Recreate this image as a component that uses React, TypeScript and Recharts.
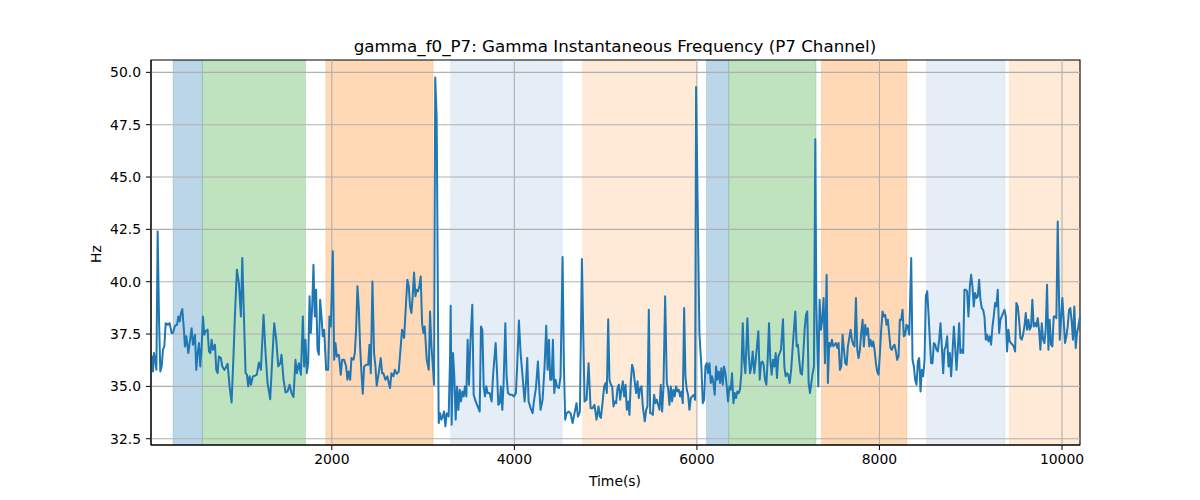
import {
  LineChart,
  Line,
  XAxis,
  YAxis,
  ReferenceArea,
  ReferenceLine,
} from 'recharts'

// time axis (seconds) and instantaneous gamma frequency of the P7 channel (Hz)
const timeS = [
  19, 34, 41, 52, 70, 78, 92, 107, 121, 136, 150, 165, 180, 202, 223, 245, 260, 282, 304, 318,
  333, 347, 362, 377, 391, 406, 428, 450, 464, 479, 501, 515, 530, 545, 559, 574, 588, 603, 617, 639,
  654, 669, 683, 698, 720, 734, 749, 763, 785, 800, 822, 836, 858, 880, 902, 924, 938, 960, 982, 1004,
  1019, 1033, 1055, 1070, 1084, 1099, 1114, 1135, 1157, 1179, 1201, 1223, 1252, 1274, 1296, 1325, 1347, 1369, 1391, 1413,
  1435, 1449, 1471, 1493, 1515, 1537, 1559, 1580, 1602, 1617, 1639, 1661, 1683, 1697, 1712, 1726, 1741, 1756, 1770, 1785,
  1799, 1814, 1828, 1843, 1858, 1872, 1887, 1901, 1916, 1938, 1960, 1974, 1989, 2011, 2026, 2040, 2055, 2077, 2098, 2113,
  2135, 2157, 2171, 2186, 2201, 2215, 2237, 2252, 2266, 2281, 2295, 2310, 2325, 2339, 2354, 2376, 2398, 2412, 2427, 2445,
  2463, 2478, 2492, 2514, 2536, 2551, 2565, 2587, 2609, 2624, 2638, 2653, 2675, 2690, 2711, 2733, 2755, 2770, 2792, 2813,
  2828, 2843, 2857, 2872, 2886, 2901, 2916, 2930, 2945, 2959, 2974, 2989, 3003, 3018, 3040, 3062, 3076, 3091, 3105, 3120,
  3133, 3149, 3171, 3186, 3200, 3215, 3229, 3244, 3259, 3280, 3295, 3302, 3313, 3328, 3342, 3357, 3372, 3386, 3401, 3415,
  3430, 3445, 3459, 3474, 3488, 3503, 3518, 3539, 3554, 3576, 3598, 3620, 3634, 3649, 3664, 3678, 3693, 3707, 3729, 3751,
  3766, 3780, 3795, 3809, 3824, 3839, 3853, 3868, 3882, 3901, 3915, 3930, 3952, 3974, 3996, 4017, 4032, 4050, 4068, 4090,
  4112, 4127, 4141, 4156, 4178, 4200, 4214, 4236, 4258, 4273, 4287, 4309, 4331, 4349, 4364, 4379, 4393, 4408, 4422, 4437,
  4451, 4466, 4488, 4506, 4528, 4543, 4557, 4572, 4594, 4616, 4638, 4659, 4681, 4696, 4718, 4740, 4754, 4769, 4791, 4813,
  4835, 4857, 4878, 4900, 4922, 4937, 4948, 4962, 4984, 4999, 5013, 5028, 5042, 5057, 5072, 5086, 5101, 5115, 5130, 5145,
  5159, 5174, 5188, 5203, 5218, 5232, 5247, 5261, 5276, 5290, 5305, 5320, 5334, 5349, 5363, 5378, 5393, 5407, 5429, 5444,
  5458, 5473, 5488, 5502, 5517, 5531, 5546, 5560, 5575, 5590, 5604, 5619, 5633, 5652, 5670, 5684, 5699, 5714, 5728, 5743,
  5757, 5772, 5787, 5801, 5816, 5830, 5845, 5860, 5874, 5889, 5903, 5918, 5933, 5947, 5969, 5980, 5991, 6027, 6049, 6064,
  6079, 6093, 6108, 6122, 6137, 6152, 6166, 6181, 6195, 6210, 6224, 6239, 6254, 6268, 6283, 6297, 6312, 6327, 6341, 6356,
  6370, 6385, 6400, 6414, 6429, 6443, 6458, 6472, 6487, 6502, 6516, 6531, 6553, 6567, 6582, 6597, 6611, 6629, 6644, 6658,
  6673, 6688, 6702, 6717, 6731, 6746, 6761, 6775, 6790, 6804, 6819, 6834, 6848, 6863, 6877, 6892, 6907, 6921, 6943, 6958,
  6972, 6987, 7001, 7016, 7031, 7045, 7060, 7078, 7093, 7107, 7122, 7136, 7151, 7166, 7180, 7195, 7209, 7224, 7239, 7253,
  7268, 7282, 7297, 7308, 7330, 7344, 7359, 7373, 7388, 7403, 7421, 7435, 7450, 7465, 7479, 7494, 7508, 7523, 7538, 7552,
  7567, 7581, 7596, 7611, 7625, 7640, 7654, 7669, 7684, 7698, 7713, 7727, 7742, 7757, 7771, 7786, 7800, 7815, 7829, 7844,
  7859, 7873, 7888, 7902, 7917, 7932, 7946, 7961, 7975, 7990, 8005, 8019, 8034, 8048, 8063, 8078, 8092, 8107, 8121, 8136,
  8150, 8165, 8180, 8194, 8209, 8223, 8238, 8253, 8267, 8282, 8296, 8311, 8326, 8348, 8362, 8377, 8391, 8406, 8421, 8435,
  8450, 8464, 8479, 8494, 8508, 8523, 8537, 8552, 8566, 8581, 8596, 8610, 8625, 8639, 8654, 8669, 8683, 8698, 8712, 8727,
  8742, 8756, 8771, 8785, 8800, 8815, 8829, 8844, 8858, 8873, 8887, 8902, 8917, 8931, 8946, 8960, 8975, 8990, 9004, 9019,
  9033, 9048, 9063, 9077, 9092, 9106, 9121, 9136, 9150, 9165, 9179, 9194, 9209, 9223, 9238, 9252, 9267, 9281, 9296, 9311,
  9325, 9340, 9354, 9369, 9384, 9398, 9413, 9427, 9442, 9457, 9471, 9486, 9500, 9515, 9530, 9544, 9559, 9573, 9588, 9603,
  9617, 9632, 9646, 9661, 9675, 9690, 9705, 9719, 9734, 9748, 9763, 9778, 9792, 9807, 9821, 9836, 9851, 9865, 9880, 9894,
  9909, 9924, 9938, 9953, 9975, 9989, 10004, 10018, 10033, 10048, 10062, 10077, 10091, 10106, 10120, 10135, 10150, 10164, 10179, 10197,
]

const hzP7 = [
  36.3, 36.43, 35.71, 36.59, 36.11, 35.79, 42.4, 38.18, 35.71, 35.95, 36.75, 36.91, 38.02, 37.94, 38.02, 37.55, 37.55, 37.9, 37.94, 38.34,
  38.1, 38.5, 38.69, 37.86, 36.91, 37.39, 36.59, 37.31, 37.78, 36.99, 37.47, 35.79, 36.59, 37.07, 35.95, 36.91, 38.34, 37.47, 37.63, 37.71,
  36.67, 36.59, 37.23, 36.75, 36.99, 35.79, 35.63, 36.43, 36.35, 35.95, 35.79, 35.87, 36.08, 35.0, 34.23, 36.59, 38.34, 40.57, 39.93, 38.34,
  41.13, 38.98, 35.63, 35.56, 35.0, 35.48, 35.08, 35.48, 35.51, 35.56, 36.14, 35.79, 38.42, 36.59, 35.16, 34.39, 36.27, 38.02, 37.23, 35.95,
  36.11, 36.51, 35.32, 34.71, 34.76, 35.08, 34.68, 34.49, 36.27, 35.63, 36.11, 35.56, 38.34, 35.95, 37.23, 35.63, 36.11, 39.3, 37.55, 38.82,
  40.81, 38.34, 39.62, 36.75, 36.51, 39.14, 38.34, 37.39, 37.71, 35.79, 35.79, 38.34, 37.86, 41.45, 36.27, 37.07, 36.43, 36.51, 35.56, 36.27,
  36.27, 35.95, 35.32, 35.71, 35.32, 36.35, 36.27, 36.59, 37.71, 39.78, 38.82, 36.91, 35.63, 34.65, 35.95, 36.03, 36.03, 36.99, 35.63, 40.01,
  36.59, 35.95, 35.03, 35.63, 36.35, 35.63, 35.63, 35.32, 35.48, 35.16, 34.92, 35.63, 35.48, 35.79, 35.6, 35.71, 36.91, 37.71, 37.31, 38.98,
  40.09, 39.78, 38.82, 38.5, 39.3, 40.44, 39.3, 39.62, 39.54, 39.78, 40.25, 38.02, 37.55, 37.86, 36.27, 35.79, 38.58, 36.91, 36.11, 35.08,
  49.75, 47.8, 33.25, 33.72, 33.41, 33.56, 33.8, 33.09, 33.72, 33.56, 36.27, 38.85, 33.17, 36.59, 35.48, 33.41, 35.0, 33.88, 34.84, 34.28,
  34.76, 34.52, 35.0, 34.52, 37.23, 35.08, 37.07, 38.9, 34.6, 34.28, 34.04, 33.8, 37.86, 37.71, 35.0, 34.52, 35.0, 34.68, 34.68, 34.28,
  35.48, 36.27, 37.07, 35.79, 34.12, 34.2, 35.0, 33.88, 35.16, 38.02, 35.48, 34.68, 34.6, 34.6, 34.52, 34.68, 36.11, 38.15, 36.59, 35.48,
  34.28, 35.16, 36.35, 34.28, 33.96, 33.72, 34.28, 34.92, 36.19, 34.92, 33.88, 34.36, 35.95, 37.9, 35.79, 37.23, 35.32, 35.32, 37.23, 34.68,
  35.32, 35.0, 34.92, 35.48, 41.18, 35.95, 33.41, 33.72, 33.8, 33.72, 33.25, 33.72, 34.2, 33.56, 33.8, 41.08, 37.71, 34.28, 34.36, 36.11,
  33.96, 33.96, 34.12, 33.41, 34.04, 33.56, 33.49, 34.04, 35.0, 35.16, 34.68, 38.21, 35.32, 35.08, 35.0, 34.04, 34.28, 34.2, 34.92, 35.08,
  34.36, 34.84, 35.24, 34.52, 35.08, 33.88, 34.28, 33.64, 35.24, 36.03, 35.79, 35.16, 34.68, 35.24, 34.44, 34.92, 35.0, 34.04, 33.33, 33.88,
  34.04, 38.66, 33.72, 33.72, 33.64, 34.6, 34.2, 34.36, 34.12, 33.88, 35.08, 33.8, 34.92, 39.3, 35.16, 34.92, 34.12, 35.0, 34.28, 34.84,
  34.52, 35.0, 34.76, 34.84, 34.52, 34.76, 34.2, 38.74, 35.48, 34.84, 34.6, 33.88, 34.44, 34.52, 34.6, 34.36, 49.3, 37.55, 35.95, 34.2,
  34.36, 35.95, 36.11, 35.63, 36.11, 35.16, 35.48, 35.16, 34.6, 35.95, 35.32, 35.71, 35.16, 35.87, 35.08, 35.95, 35.63, 35.0, 34.28, 35.0,
  34.84, 35.63, 34.2, 34.68, 34.44, 34.76, 34.68, 34.84, 35.63, 38.02, 36.27, 35.63, 38.25, 36.59, 35.63, 35.95, 36.67, 35.63, 36.27, 36.91,
  37.63, 35.32, 36.11, 36.19, 36.03, 35.32, 35.08, 36.27, 38.02, 36.27, 35.56, 36.27, 35.95, 36.59, 35.4, 36.43, 36.59, 36.75, 38.21, 35.95,
  35.48, 35.63, 35.56, 35.16, 35.71, 36.59, 37.55, 38.58, 36.91, 36.99, 36.19, 35.63, 35.56, 36.59, 37.71, 38.42, 38.58, 35.16, 34.68, 35.16,
  35.63, 35.95, 46.8, 38.98, 35.0, 39.14, 37.71, 38.18, 39.22, 36.11, 40.33, 35.16, 37.07, 36.91, 37.23, 36.91, 36.99, 37.07, 36.83, 37.07,
  35.79, 35.95, 37.47, 36.75, 36.11, 36.03, 36.91, 37.31, 37.71, 37.23, 36.99, 36.91, 39.22, 36.75, 36.35, 36.75, 37.55, 38.18, 36.91, 37.94,
  37.47, 37.78, 36.91, 37.23, 36.91, 37.15, 36.75, 36.11, 35.71, 35.56, 36.59, 37.71, 38.58, 38.34, 38.42, 37.94, 38.18, 37.47, 36.83, 36.75,
  36.91, 36.99, 36.67, 36.27, 36.43, 38.18, 38.18, 38.66, 37.39, 37.47, 37.94, 37.86, 37.47, 41.13, 36.27, 35.95, 35.32, 35.08, 36.19, 36.35,
  34.76, 35.79, 35.48, 36.27, 39.3, 39.54, 38.5, 37.23, 36.11, 36.11, 37.07, 36.99, 36.75, 36.67, 37.23, 38.02, 36.91, 35.63, 36.75, 36.91,
  37.39, 35.95, 36.59, 35.48, 36.59, 37.86, 36.91, 35.79, 36.75, 38.02, 36.59, 36.75, 36.59, 39.62, 39.62, 39.54, 38.34, 39.78, 40.33, 39.78,
  38.82, 39.46, 39.22, 39.3, 40.09, 39.14, 38.74, 38.66, 38.34, 37.23, 37.47, 37.15, 37.39, 36.99, 37.86, 38.34, 38.98, 38.82, 39.62, 37.55,
  38.18, 38.34, 38.5, 38.66, 38.34, 36.67, 37.71, 37.15, 37.07, 36.99, 36.91, 36.67, 38.98, 38.82, 38.18, 37.31, 37.23, 37.47, 37.86, 38.5,
  37.71, 38.18, 37.71, 37.86, 39.14, 37.86, 38.02, 37.86, 38.26, 37.71, 36.75, 38.02, 37.23, 37.07, 37.71, 39.86, 36.75, 38.18, 36.99, 36.91,
  38.34, 38.34, 38.26, 42.88, 37.23, 38.18, 39.22, 38.18, 37.07, 37.39, 37.86, 38.66, 38.74, 38.1, 37.23, 38.82, 36.83, 37.55, 37.86, 38.34,
]

// shaded task phases
const bandStart = [260, 582, 1934, 3302, 4747, 6104, 6348, 7363, 8515, 9423]
const bandEnd = [582, 1712, 3110, 4525, 5995, 6348, 7305, 8301, 9376, 10197]
const bandKind = ['blue', 'green', 'orange', 'paleBlue', 'paleOrange', 'blue', 'green', 'orange', 'paleBlue', 'paleOrange']

const xTicks = [2000, 4000, 6000, 8000, 10000]
const yTicks = [32.5, 35, 37.5, 40, 42.5, 45, 47.5, 50]
const xDomain: [number, number] = [19, 10197]
const yDomain: [number, number] = [32.2, 50.59]

const kindStyle: Record<string, { color: string; opacity: number }> = {
  blue: { color: '#1f77b4', opacity: 0.3 },
  green: { color: '#2ca02c', opacity: 0.3 },
  orange: { color: '#ff7f0e', opacity: 0.3 },
  paleBlue: { color: '#4a80c8', opacity: 0.14 },
  paleOrange: { color: '#ff7f0e', opacity: 0.16 },
}

const data = timeS.map((t, i) => ({ t, hz: hzP7[i] }))

const FONT = '"DejaVu Sans", sans-serif'
const tickStyle = { fill: '#000', fontSize: 13.9, fontFamily: FONT }

export default function App() {
  return (
    <div style={{ position: 'absolute', left: 0, top: 0, width: 1200, height: 500, background: '#fff' }}>
      <LineChart
        width={1200}
        height={500}
        data={data}
        margin={{ top: 60, right: 120, bottom: 25, left: 0 }}
      >
        <XAxis
          dataKey="t"
          type="number"
          domain={xDomain}
          ticks={xTicks}
          tickSize={5}
          tickMargin={4}
          tick={tickStyle}
          stroke="#000"
          tickLine={{ stroke: '#000' }}
          axisLine={{ stroke: '#000' }}
          height={30}
        />
        <YAxis
          type="number"
          domain={yDomain}
          ticks={yTicks}
          allowDataOverflow
          tickFormatter={(v: number) => v.toFixed(1)}
          tickSize={5}
          tickMargin={5}
          tick={tickStyle}
          tickLine={{ stroke: '#000' }}
          axisLine={{ stroke: '#000' }}
          width={151}
        />
        {bandStart.map((s, i) => (
          <ReferenceArea
            key={`band-${i}`}
            x1={s}
            x2={bandEnd[i]}
            fill={kindStyle[bandKind[i]].color}
            fillOpacity={kindStyle[bandKind[i]].opacity}
            stroke={kindStyle[bandKind[i]].color}
            strokeOpacity={kindStyle[bandKind[i]].opacity * 0.6}
            ifOverflow="hidden"
          />
        ))}
        {xTicks.map((v) => (
          <ReferenceLine key={`gx-${v}`} x={v} stroke="#b0b0b0" strokeWidth={1.1} />
        ))}
        {yTicks.map((v) => (
          <ReferenceLine key={`gy-${v}`} y={v} stroke="#b0b0b0" strokeWidth={1.1} />
        ))}
        <Line
          type="linear"
          dataKey="hz"
          stroke="#1f77b4"
          strokeWidth={2}
          strokeLinejoin="round"
          dot={false}
          activeDot={false}
          isAnimationActive={false}
        />
        {/* axes frame */}
        <ReferenceArea
          x1={xDomain[0]}
          x2={xDomain[1]}
          y1={yDomain[0]}
          y2={yDomain[1]}
          fill="none"
          stroke="#000"
          strokeWidth={1.1}
          ifOverflow="extendDomain"
        />
      </LineChart>
      <svg
        width={1200}
        height={500}
        style={{ position: 'absolute', left: 0, top: 0, pointerEvents: 'none' }}
      >
        <text x={615} y={52} textAnchor="middle" fontFamily={FONT} fontSize={16.7} fill="#000">
          gamma_f0_P7: Gamma Instantaneous Frequency (P7 Channel)
        </text>
        <text x={615} y={486} textAnchor="middle" fontFamily={FONT} fontSize={13.9} fill="#000">
          Time(s)
        </text>
        <text
          x={101}
          y={254}
          textAnchor="middle"
          fontFamily={FONT}
          fontSize={13.9}
          fill="#000"
          transform="rotate(-90 101 254)"
        >
          Hz
        </text>
      </svg>
    </div>
  )
}
